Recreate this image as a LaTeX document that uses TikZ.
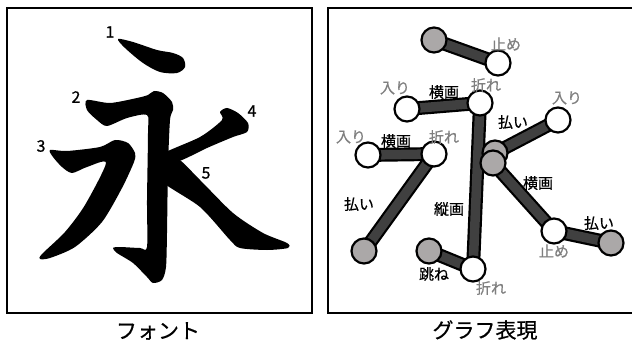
\documentclass[tikz,border=0pt]{standalone}
\usepackage{fontspec}
\setmainfont{Noto Sans CJK JP}
\newfontfamily\jp[FakeBold=0.6]{Noto Sans CJK JP}
\usetikzlibrary{backgrounds}
\definecolor{edgefill}{HTML}{404040}
\definecolor{tipfill}{HTML}{ABA8A8}
\definecolor{lblgray}{HTML}{7F7F7F}
\tikzset{
vert/.style={circle, draw=black, line width=2.2pt, fill=white, minimum size=25pt, inner sep=0pt},
tipv/.style={vert, fill=tipfill},
edge/.style={draw=black, line width=2.2pt, double=edgefill, double distance=9.5pt},
lbl/.style={font=\jp\fontsize{15}{15}\selectfont, inner sep=0pt},
lblg/.style={lbl, text=lblgray},
num/.style={font=\jp\fontsize{16}{16}\selectfont, inner sep=0pt},
captext/.style={font=\jp\fontsize{21}{21}\selectfont, inner sep=0pt},
frame/.style={draw=black, line width=2.5pt}
}
\begin{document}
\begin{tikzpicture}[x=1pt, y=-1pt]
\useasboundingbox (0,0) rectangle (632,342);
\clip (0,0) rectangle (632,342);

% left panel: font
\draw[frame] (7,8) rectangle (312,313);
\fill plot[smooth cycle, tension=0.5] coordinates {(118,39) (133,42) (157,50) (173,53) (183,58) (185,67) (177,73) (160,72) (143,63) (125,48)};
\fill plot[smooth cycle, tension=0.45] coordinates {(87,100) (110,103) (137,98) (148,95) (154,91) (163,93) (172,102) (173,110) (170,120) (168,167) (167,233) (166,267) (162,280) (153,283) (147,277) (133,263) (117,253) (113,248) (120,247) (140,248) (147,247) (147,200) (148,133) (147,115) (127,118) (107,126) (97,120) (87,110)};
\fill plot[smooth cycle, tension=0.45] coordinates {(50,150) (67,151) (100,147) (115,140) (128,143) (135,153) (134,162) (122,188) (102,222) (75,247) (50,258) (40,259) (42,254) (65,232) (85,205) (106,163) (87,167) (72,173) (62,167) (53,157)};
\fill plot[smooth cycle, tension=0.45] coordinates {(160,155) (200,137) (222,120) (220,112) (227,108) (238,113) (248,123) (247,132) (233,137) (207,148) (182,160) (160,166)};
\fill plot[smooth cycle, tension=0.45] coordinates {(160,160) (177,158) (200,180) (233,213) (263,233) (287,243) (288,248) (267,250) (240,248) (230,240) (200,207) (160,180)};
\node[num] (n1) at (110,32) {1};
\node[num] (n2) at (76,97) {2};
\node[num] (n3) at (41,146) {3};
\node[num] (n4) at (252,111) {4};
\node[num] (n5) at (206,173) {5};
\node[captext] (capfont) at (158,331) {フォント};

% right panel: graph
\draw[frame] (328,8) rectangle (645,313);
\node[tipv] (a1) at (434,40) {};
\node[vert] (a2) at (498,63) {};
\node[vert] (b1) at (407,109) {};
\node[vert] (b2) at (480,103) {};
\node[vert] (d1) at (368,155) {};
\node[vert] (d2) at (434,154) {};
\node[tipv] (d3) at (364,251) {};
\node[vert] (e1) at (558,120) {};
\node[tipv] (f1) at (495,153) {};
\node[tipv] (f2) at (493,163) {};
\node[vert] (g1) at (554,231) {};
\node[tipv] (h1) at (611,243) {};
\node[tipv] (c1) at (429,251) {};
\node[vert] (c2) at (473,269) {};
\begin{pgfonlayer}{background}
\draw[edge] (a1.center) -- (a2.center);
\draw[edge] (b1.center) -- (b2.center);
\draw[edge] (b2.center) -- (c2.center);
\draw[edge] (c1.center) -- (c2.center);
\draw[edge] (d1.center) -- (d2.center);
\draw[edge] (d2.center) -- (d3.center);
\draw[edge] (e1.center) -- (f1.center);
\draw[edge] (f2.center) -- (g1.center);
\draw[edge] (g1.center) -- (h1.center);
\end{pgfonlayer}

\node[lblg] (ta2) at (506,44) {止め};
\node[lblg] (tb1) at (395,88) {入り};
\node[lbl] (tb) at (444,92) {横画};
\node[lblg] (tb2) at (486,85) {折れ};
\node[lblg] (td1) at (351,137) {入り};
\node[lbl] (td) at (396,141) {横画};
\node[lblg] (td2) at (444,137) {折れ};
\node[lblg] (te1) at (567,98) {入り};
\node[lbl] (te) at (513,122) {払い};
\node[lbl] (tdd) at (359,204) {払い};
\node[lbl] (tc) at (449,209) {縦画};
\node[lbl] (tg) at (538,183) {横画};
\node[lbl] (th) at (599,223) {払い};
\node[lblg] (tg1) at (554,251) {止め};
\node[lbl] (tc1) at (434,274) {跳ね};
\node[lblg] (tc2) at (491,288) {折れ};
\node[captext] (capgraph) at (485,330) {グラフ表現};
\end{tikzpicture}
\end{document}
